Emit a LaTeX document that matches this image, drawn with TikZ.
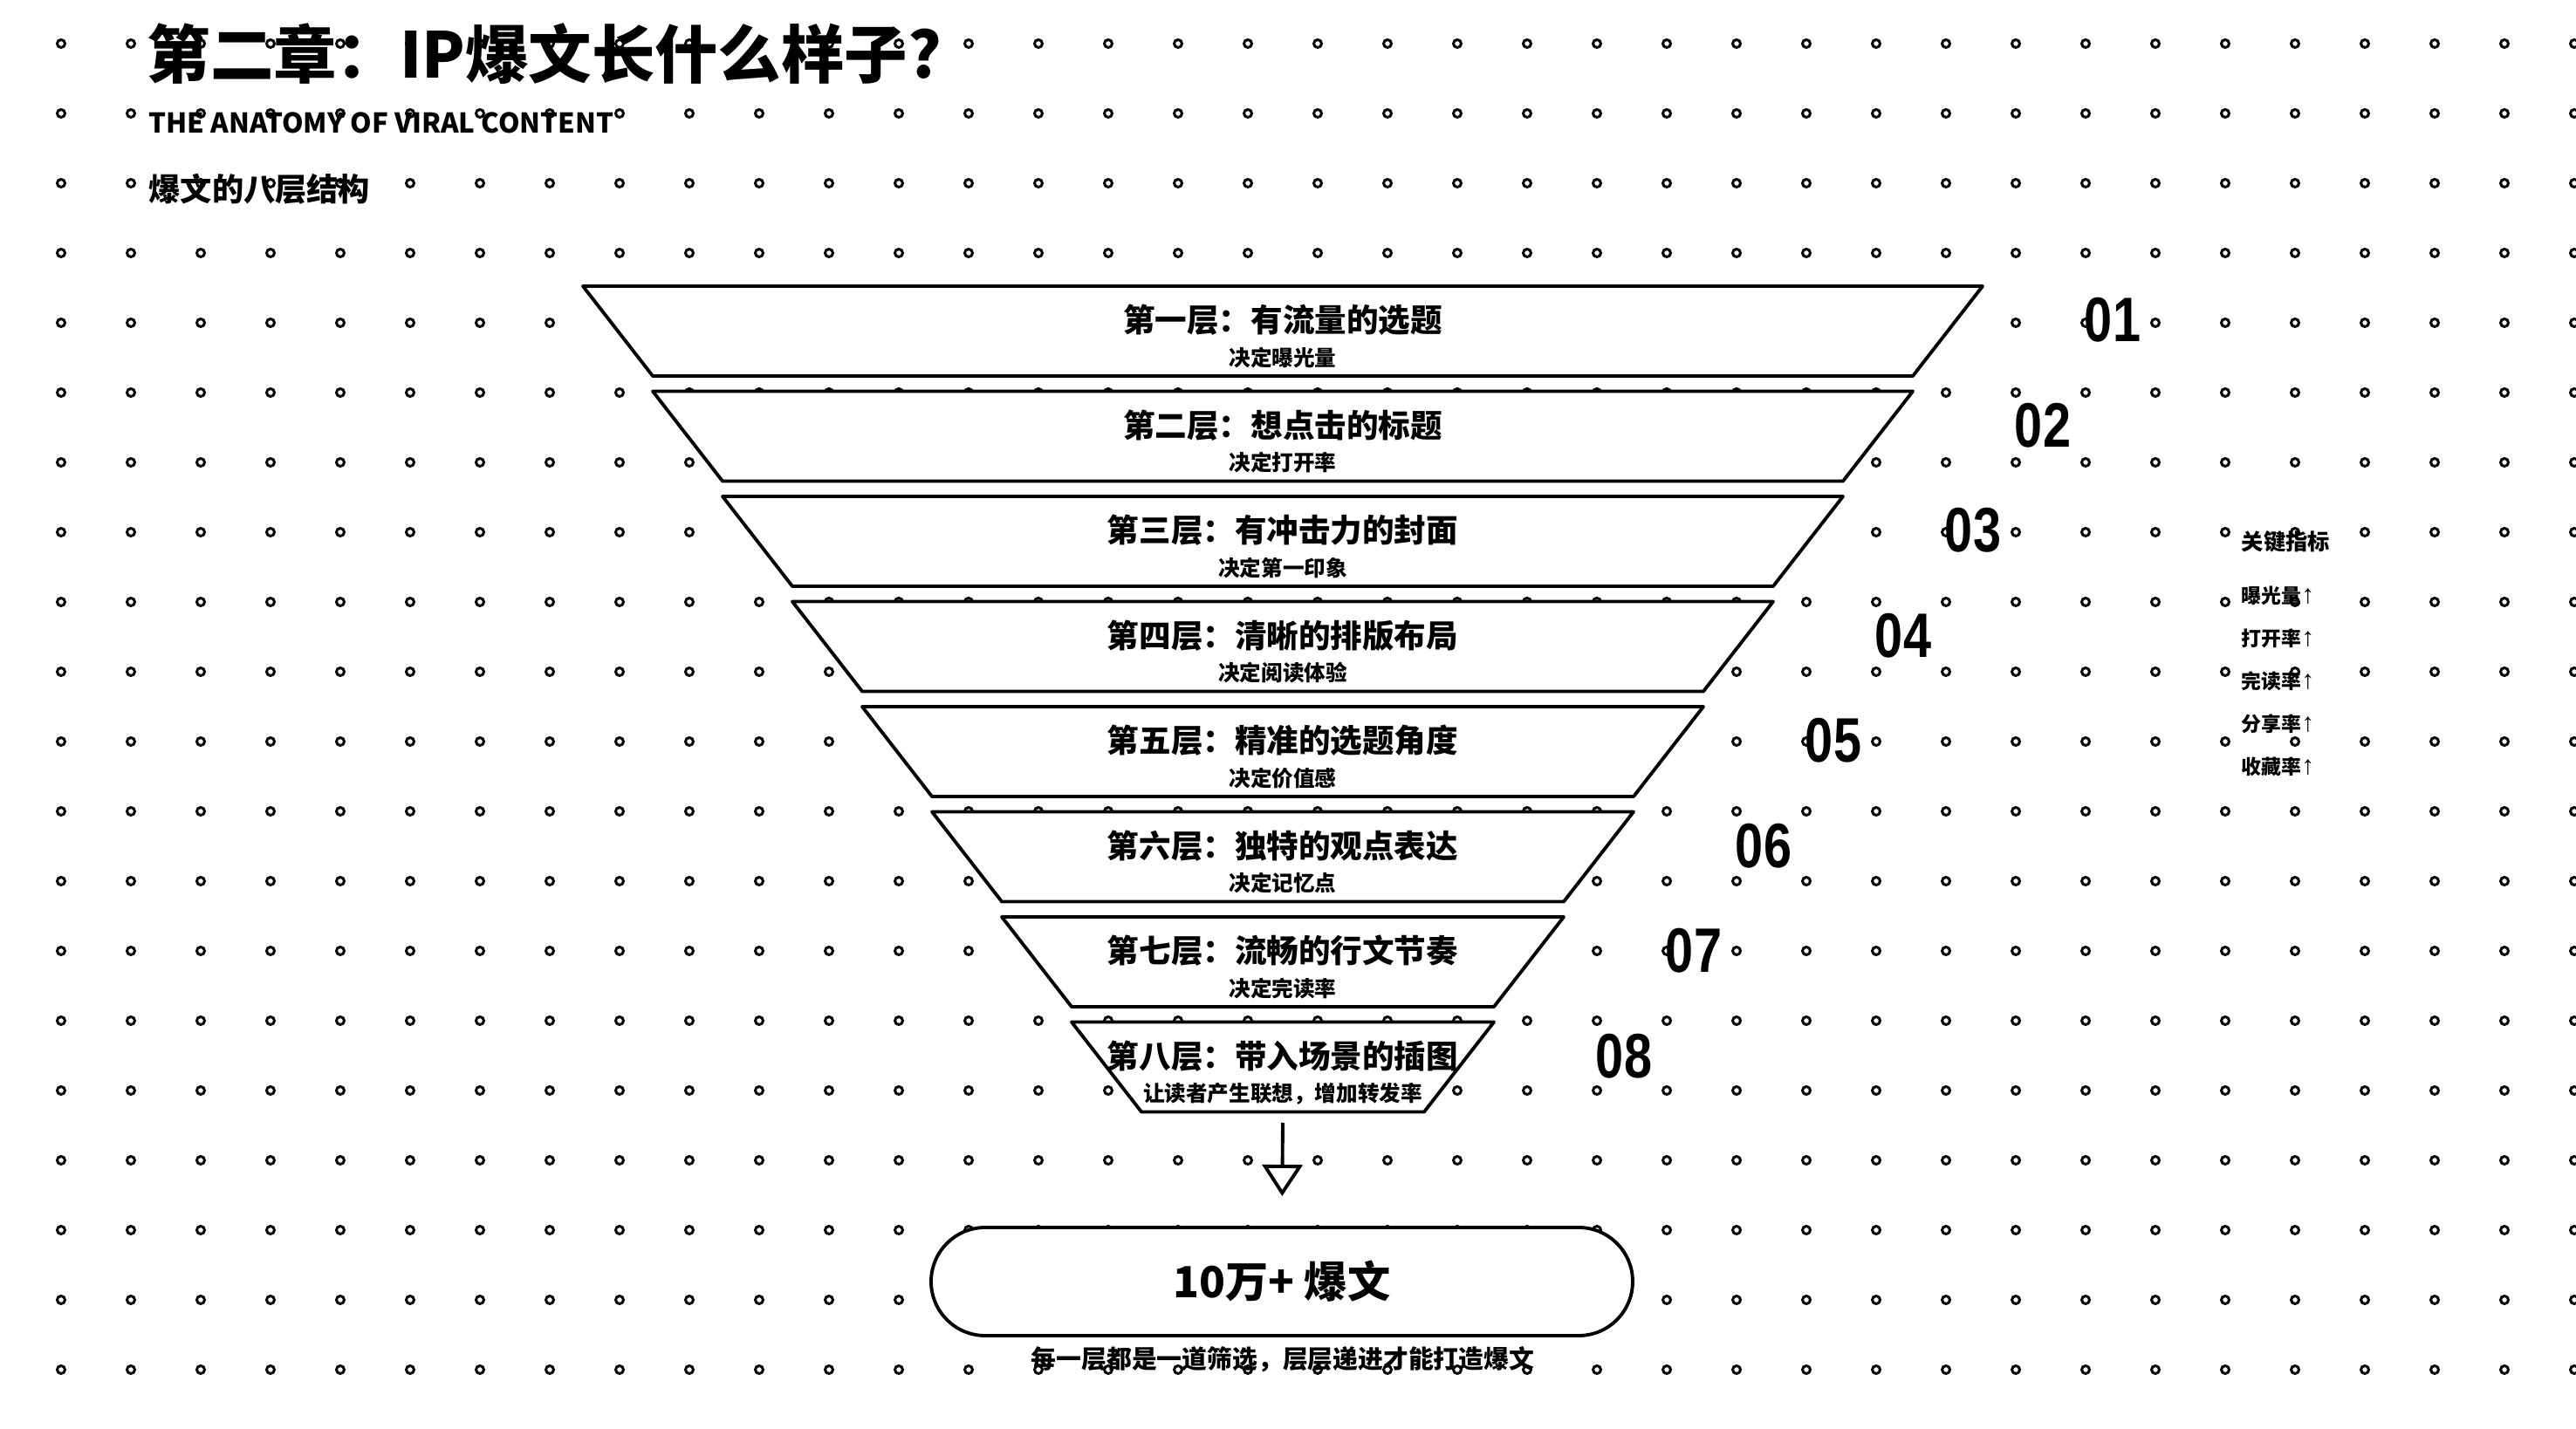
\documentclass[tikz,border=0pt]{standalone}
\usepackage{fontspec}
\setmainfont{Noto Sans CJK SC}
\newfontfamily\numfont{Liberation Sans}
\usetikzlibrary{shapes}
\usetikzlibrary{arrows.meta}

\begin{document}
\begin{tikzpicture}[x=1cm,y=-1cm,
    every node/.style={inner sep=0pt},
    griddot/.style={draw,line width=0.85pt,fill=white},
    layer/.style={draw,line width=1.1pt,fill=white,line join=round},
    layertitle/.style={font=\fontsize{10.4pt}{12pt}\selectfont\bfseries},
    layersub/.style={font=\fontsize{7pt}{8pt}\selectfont\bfseries},
    layernum/.style={font=\numfont\fontsize{20.5pt}{24pt}\selectfont\bfseries},
    metric/.style={anchor=west,font=\fontsize{6.5pt}{8pt}\selectfont\bfseries}]
    \useasboundingbox (0,0) rectangle (29.52,16.38);

    % background dots, 0.8 pitch
    \foreach \i in {0,...,36}
      \foreach \j in {0,...,19}
        \draw[griddot] (0.7+0.8*\i,0.5+0.8*\j) circle (0.045);

    \node[anchor=west,font=\fontsize{20.6pt}{24pt}\selectfont\bfseries] (heading) at (1.68,0.62) {第二章：IP爆文长什么样子?};
    \node[anchor=west,font=\fontsize{8.9pt}{11pt}\selectfont\bfseries] (subhead) at (1.70,1.41) {THE ANATOMY OF VIRAL CONTENT};
    \node[anchor=west,font=\fontsize{10.3pt}{12pt}\selectfont\bfseries] (section) at (1.70,2.17) {爆文的八层结构};

    % funnel, each layer 0.8 narrower per side
    \foreach \i/\ttl/\sub in {1/第一层：有流量的选题/决定曝光量,
        2/第二层：想点击的标题/决定打开率,
        3/第三层：有冲击力的封面/决定第一印象,
        4/第四层：清晰的排版布局/决定阅读体验,
        5/第五层：精准的选题角度/决定价值感,
        6/第六层：独特的观点表达/决定记忆点,
        7/第七层：流畅的行文节奏/决定完读率,
        8/第八层：带入场景的插图/让读者产生联想，增加转发率}{
      \pgfmathsetmacro{\ly}{3.28+1.205*(\i-1)}
      \pgfmathsetmacro{\hw}{8.02-0.8*(\i-1)}
      \draw[layer] (14.70-\hw,\ly) -- (14.70+\hw,\ly) -- (13.90+\hw,\ly+1.03) -- (15.50-\hw,\ly+1.03) -- cycle;
      \node[layertitle] (t\i) at (14.70,\ly+0.39) {\ttl};
      \node[layersub] (s\i) at (14.70,\ly+0.82) {\sub};
      \node[layernum] (n\i) at (25.01-0.8*\i,\ly+0.39) {\scalebox{0.8}[1]{0\i}};
    }

    \coordinate (arrowtop) at (14.70,12.87);
    \node[draw,line width=1.1pt,fill=white,rounded corners=0.62cm,minimum width=8.04cm,minimum height=1.24cm,
        font=\fontsize{14pt}{16pt}\selectfont\bfseries] (result) at (14.69,14.69) {10万+ 爆文};
    \draw[line width=1.1pt,-{Triangle[open,length=0.36cm,width=0.46cm]},shorten >=0.34cm] (arrowtop) -- (result.north);
    \node[font=\fontsize{8.2pt}{10pt}\selectfont\bfseries] (caption) at (14.70,15.58) {每一层都是一道筛选，层层递进才能打造爆文};

    % metrics on the right
    \node[anchor=west,font=\fontsize{7.2pt}{9pt}\selectfont\bfseries] (keyhead) at (25.68,6.21) {关键指标};
    \foreach \k/\m in {0/曝光量,1/打开率,2/完读率,3/分享率,4/收藏率}
      \node[metric] (m\k) at (25.68,6.83+0.49*\k) {\m{\numfont\fontsize{8.5pt}{9pt}\selectfont\bfseries↑}};
\end{tikzpicture}
\end{document}
